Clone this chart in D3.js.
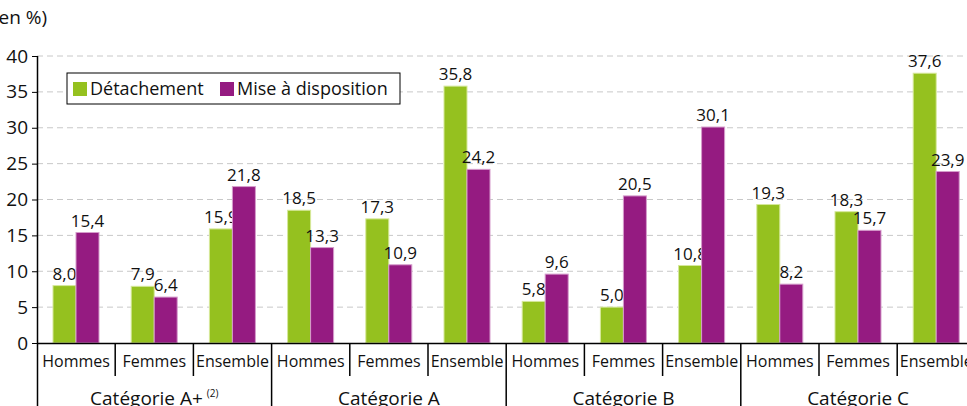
<!DOCTYPE html>
<html>
<head>
<meta charset="utf-8">
<script src="https://cdn.jsdelivr.net/npm/d3@7"></script>
<style>
  body { margin: 0; background: #fff; }
  .vis { width: 967px; height: 406px; overflow: hidden; }
  text { font-family: "Open Sans", sans-serif; fill: #111; }
</style>
</head>
<body>
<div class="vis"></div>
<script>
(function() {
  'use strict';

  var categories = ['Catégorie A+', 'Catégorie A', 'Catégorie B', 'Catégorie C'];
  var subgroups = ['Hommes', 'Femmes', 'Ensemble'];
  var seriesNames = ['Détachement', 'Mise à disposition'];
  var detachement = [8.0, 7.9, 15.9, 18.5, 17.3, 35.8, 5.8, 5.0, 10.8, 19.3, 18.3, 37.6];
  var miseADisposition = [15.4, 6.4, 21.8, 13.3, 10.9, 24.2, 9.6, 20.5, 30.1, 8.2, 15.7, 23.9];
  var yTicks = [0, 5, 10, 15, 20, 25, 30, 35, 40];

  var colors = ['#95c11f', '#951b81'];

  var elWidth = 967, elHeight = 406,
    left = 37, top = 56, bottom = 343, groupW = 78.2;

  var svg = d3.select('.vis').append('svg')
    .attr('width', elWidth)
    .attr('height', elHeight);

  var keys = [];
  categories.forEach(function(c, ci) {
    subgroups.forEach(function(s, si) {
      keys.push({cat: ci, sub: s, i: ci * 3 + si});
    });
  });

  var x = d3.scaleBand()
    .domain(keys.map(function(d) { return d.i; }))
    .range([left, left + groupW * keys.length]);

  var xInner = d3.scaleBand()
    .domain([0, 1])
    .range([16, 62]);

  var y = d3.scaleLinear()
    .domain([0, 40])
    .range([bottom, top]);

  // unit text
  svg.append('text')
    .attr('x', -7)
    .attr('y', 24)
    .style('font-size', '19px')
    .text('(en %)');

  // grid
  svg.selectAll('.grid')
    .data(yTicks.filter(function(d) { return d > 0; }))
    .enter()
    .append('line')
      .attr('x1', left)
      .attr('x2', elWidth)
      .attr('y1', function(d) { return y(d); })
      .attr('y2', function(d) { return y(d); })
      .attr('stroke', '#c8c8c8')
      .attr('stroke-width', 1)
      .attr('stroke-dasharray', '6,4');

  // y axis
  var yAxis = svg.append('g')
    .attr('transform', 'translate(' + left + ',0)')
    .call(d3.axisLeft(y).tickValues(yTicks).tickSize(5).tickFormat(d3.format('d')));
  yAxis.select('.domain').remove();
  yAxis.selectAll('line').attr('stroke', '#000');
  yAxis.selectAll('text')
    .style('font-size', '19px')
    .style('font-family', '"Open Sans", sans-serif')
    .attr('fill', '#111')
    .attr('x', -9);

  svg.append('line')
    .attr('x1', left + 0.5).attr('x2', left + 0.5)
    .attr('y1', top).attr('y2', elHeight)
    .attr('stroke', '#000').attr('stroke-width', 1.5);

  // bars
  var series = [detachement, miseADisposition];
  series.forEach(function(vals, si) {
    var g = svg.append('g');
    g.selectAll('rect')
      .data(vals)
      .enter()
      .append('rect')
        .attr('x', function(d, i) { return x(i) + xInner(si); })
        .attr('width', xInner.bandwidth())
        .attr('y', function(d) { return y(d); })
        .attr('height', function(d) { return y(0) - y(d); })
        .attr('fill', colors[si])
        .attr('stroke', si === 0 ? '#d6e89a' : '#d59ccb')
        .attr('stroke-width', 1);
    g.selectAll('text')
      .data(vals)
      .enter()
      .append('text')
        .attr('x', function(d, i) { return x(i) + xInner(si) + xInner.bandwidth() / 2; })
        .attr('y', function(d) { return y(d) - 6; })
        .attr('text-anchor', 'middle')
        .style('font-size', '17px')
        .text(function(d) { return d.toFixed(1).replace('.', ','); });
  });

  // x axis line
  svg.append('line')
    .attr('x1', left).attr('x2', elWidth)
    .attr('y1', bottom + 0.5).attr('y2', bottom + 0.5)
    .attr('stroke', '#000').attr('stroke-width', 1.5);

  // subgroup separators and labels
  svg.selectAll('.subsep')
    .data(keys)
    .enter()
    .append('line')
      .attr('x1', function(d) { return x(d.i) + groupW; })
      .attr('x2', function(d) { return x(d.i) + groupW; })
      .attr('y1', bottom)
      .attr('y2', function(d) { return d.i % 3 === 2 ? elHeight : bottom + 33; })
      .attr('stroke', '#000')
      .attr('stroke-width', 1.5);

  svg.selectAll('.sublabel')
    .data(keys)
    .enter()
    .append('text')
      .attr('x', function(d) { return x(d.i) + groupW / 2; })
      .attr('y', 367)
      .attr('text-anchor', 'middle')
      .style('font-size', '16px')
      .text(function(d) { return d.sub; });

  // category labels
  var catLabels = svg.selectAll('.catlabel')
    .data(categories)
    .enter()
    .append('text')
      .attr('x', function(d, i) { return x(i * 3) + groupW * 1.5; })
      .attr('y', 405)
      .attr('text-anchor', 'middle')
      .style('font-size', '19px')
      .text(function(d) { return d; });
  catLabels.filter(function(d, i) { return i === 0; })
    .append('tspan')
      .attr('dy', -8)
      .attr('dx', 4)
      .style('font-size', '10px')
      .text('(2)');

  // legend
  var legend = svg.append('g').attr('transform', 'translate(67,73)');
  legend.append('rect')
    .attr('width', 333).attr('height', 31)
    .attr('fill', '#fff').attr('stroke', '#000').attr('stroke-width', 1);
  var legendX = [6, 153];
  seriesNames.forEach(function(name, i) {
    legend.append('rect')
      .attr('x', legendX[i]).attr('y', 9)
      .attr('width', 14).attr('height', 14)
      .attr('fill', colors[i]);
    legend.append('text')
      .attr('x', legendX[i] + 17).attr('y', 22)
      .style('font-size', '18px')
      .text(name);
  });
}());
</script>
</body>
</html>
